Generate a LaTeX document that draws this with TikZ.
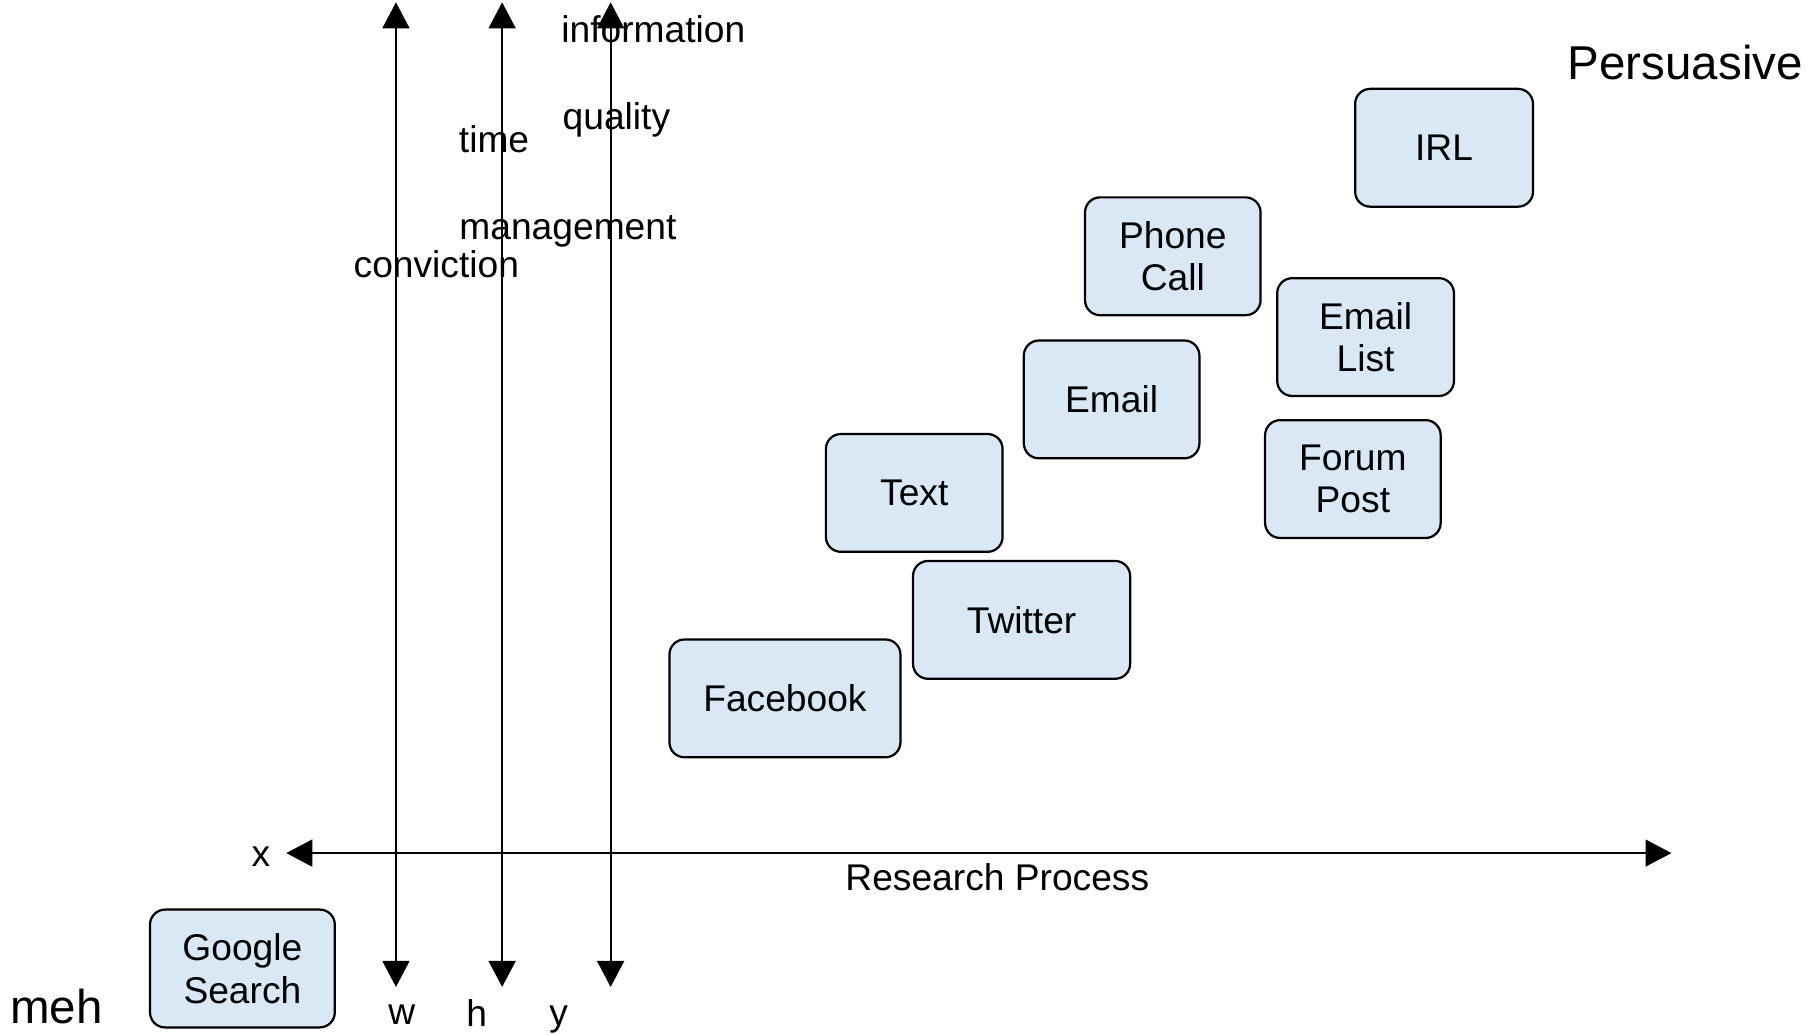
\documentclass[tikz,border=0pt]{standalone}
\usepackage{fontspec}
\setmainfont{Liberation Sans}
\usetikzlibrary{arrows.meta}
\definecolor{boxfill}{HTML}{DAE8F6}
\begin{document}
\begin{tikzpicture}[x=0.01cm,y=-0.01cm,
  every node/.style={inner sep=0pt, outer sep=0pt},
  lbl/.style={font=\fontsize{9.16}{10.5}\selectfont},
  biglbl/.style={font=\fontsize{11.7}{13}\selectfont},
  box/.style={draw=black, line width=0.55pt, fill=boxfill, rounded corners=0.13cm,
    minimum width=#1, minimum height=1.02cm, align=center,
    font=\fontsize{9.16}{10.5}\selectfont},
  box/.default=1.52cm,
  axis/.style={line width=0.55pt, {Triangle[length=6.4pt,width=6.6pt]}-{Triangle[length=6.4pt,width=6.6pt]}}]
\useasboundingbox (0,0) rectangle (1568,896);
% axes
\coordinate (w1) at (343,2);   \coordinate (w2) at (343,855);
\coordinate (h1) at (435,2);   \coordinate (h2) at (435,855);
\coordinate (y1) at (529,2);   \coordinate (y2) at (529,855);
\coordinate (xl) at (248,739); \coordinate (xr) at (1448,739);
\draw[axis] (w1) -- (w2);
\draw[axis] (h1) -- (h2);
\draw[axis] (y1) -- (y2);
\draw[axis] (xl) -- (xr);
% axis labels
\node[lbl] (lx) at (226,742) {x};
\node[lbl] (lw) at (348,879) {w};
\node[lbl] (lh) at (413,878) {h};
\node[lbl] (ly) at (484,883) {y};
\node[biglbl] (meh) at (49,872) {meh};
\node[biglbl] (pers) at (1460,54) {Persuasive};
\node[lbl] (info) at (566,25) {information};
\node[lbl] (qual) at (534,104) {quality};
\node[lbl] (time) at (428,121) {time};
\node[lbl] (mgmt) at (492,200) {management};
\node[lbl] (conv) at (378,229) {conviction};
\node[lbl] (rp) at (864,760) {Research Process};
% boxes
\node[box=1.60cm] (google) at (210,839) {Google\\Search};
\node[box=2.00cm] (fb) at (680,605) {Facebook};
\node[box=1.88cm] (tw) at (885,537) {Twitter};
\node[box=1.53cm] (text) at (792,427) {Text};
\node[box] (email) at (963,346) {Email};
\node[box] (phone) at (1016,222) {Phone\\Call};
\node[box=1.53cm] (elist) at (1183,292) {Email\\List};
\node[box] (forum) at (1172,415) {Forum\\Post};
\node[box=1.54cm] (irl) at (1251,128) {IRL};
\end{tikzpicture}
\end{document}
